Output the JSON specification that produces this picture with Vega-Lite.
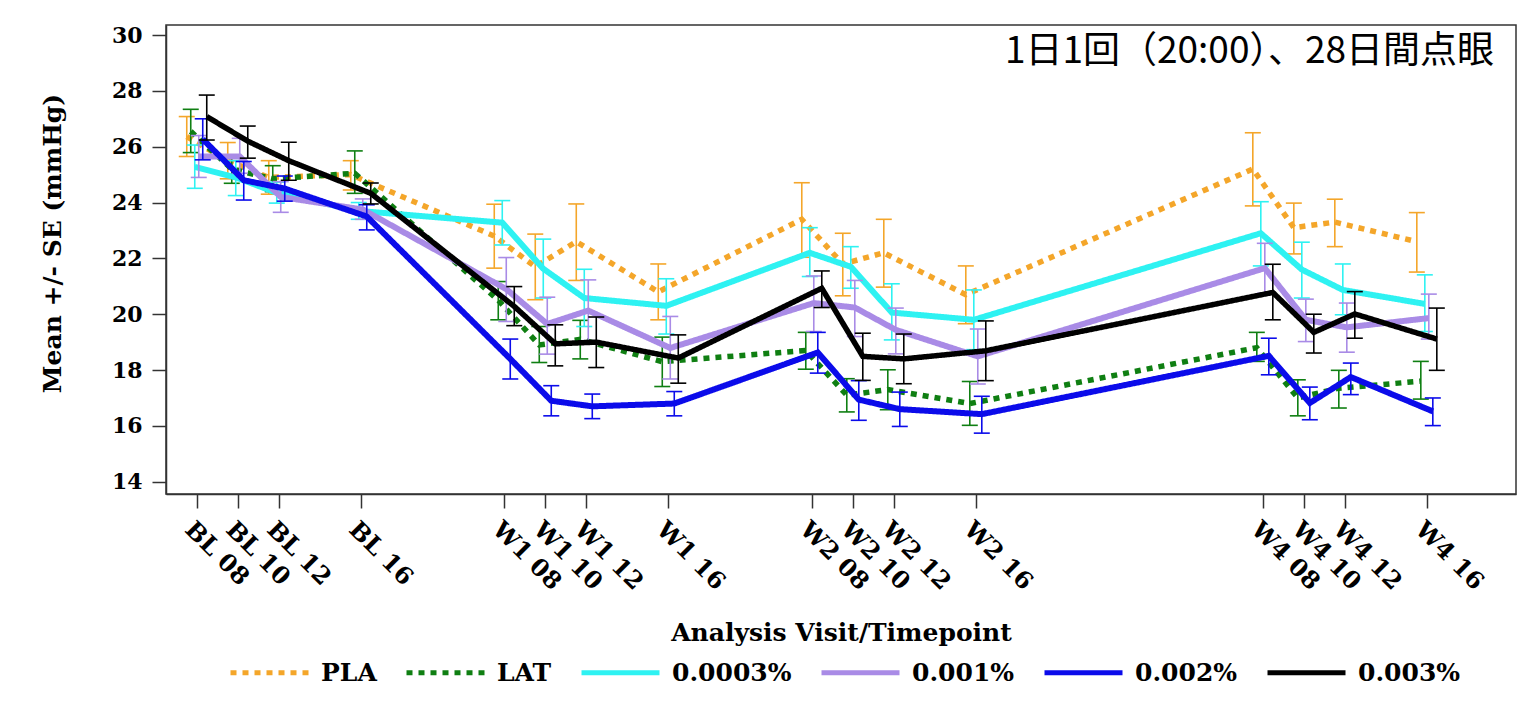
{
  "$schema": "https://vega.github.io/schema/vega-lite/v6.json",
  "width": 1350,
  "height": 469,
  "autosize": {"type": "none"},
  "padding": {"left": 166, "top": 25, "right": 10, "bottom": 208},
  "background": "white",
  "title": {
    "text": "1日1回（20:00）、28日間点眼",
    "anchor": "end", "frame": "group", "orient": "top",
    "font": "Noto Sans CJK JP", "fontSize": 37, "fontWeight": "normal", "color": "#000000",
    "baseline": "alphabetic", "offset": -37, "dy": 39, "dx": -22
  },
  "config": {
    "view": {"stroke": "#333333", "strokeWidth": 1.5},
    "axis": {
      "grid": false, "domainColor": "#333333", "domainWidth": 1.5, "tickColor": "#333333", "tickWidth": 1.5, "tickSize": 14,
      "labelFont": "DejaVu Serif", "labelFontWeight": "bold", "labelFontSize": 22, "labelColor": "#000000",
      "titleFont": "DejaVu Serif", "titleFontWeight": "bold", "titleFontSize": 25, "titleColor": "#000000"
    }
  },
  "data": {"values": [
    {"series": "PLA", "x": 0, "mean": 26.36, "lo": 25.65, "hi": 27.08},
    {"series": "PLA", "x": 2, "mean": 25.5, "lo": 24.85, "hi": 26.15},
    {"series": "PLA", "x": 4, "mean": 24.9, "lo": 24.3, "hi": 25.5},
    {"series": "PLA", "x": 8, "mean": 25.0, "lo": 24.45, "hi": 25.5},
    {"series": "PLA", "x": 15, "mean": 22.8, "lo": 21.65, "hi": 23.94},
    {"series": "PLA", "x": 17, "mean": 21.7, "lo": 20.52, "hi": 22.87},
    {"series": "PLA", "x": 19, "mean": 22.6, "lo": 21.21, "hi": 23.95},
    {"series": "PLA", "x": 23, "mean": 20.8, "lo": 19.8, "hi": 21.8},
    {"series": "PLA", "x": 30, "mean": 23.4, "lo": 22.04, "hi": 24.71},
    {"series": "PLA", "x": 32, "mean": 21.8, "lo": 20.66, "hi": 22.9},
    {"series": "PLA", "x": 34, "mean": 22.2, "lo": 20.97, "hi": 23.4},
    {"series": "PLA", "x": 38, "mean": 20.7, "lo": 19.66, "hi": 21.73},
    {"series": "PLA", "x": 52, "mean": 25.2, "lo": 23.88, "hi": 26.5},
    {"series": "PLA", "x": 54, "mean": 23.1, "lo": 22.16, "hi": 23.98},
    {"series": "PLA", "x": 56, "mean": 23.3, "lo": 22.42, "hi": 24.12},
    {"series": "PLA", "x": 60, "mean": 22.6, "lo": 21.51, "hi": 23.64},
    {"series": "LAT", "x": 0, "mean": 26.55, "lo": 25.79, "hi": 27.34},
    {"series": "LAT", "x": 2, "mean": 25.2, "lo": 24.69, "hi": 25.71},
    {"series": "LAT", "x": 4, "mean": 24.85, "lo": 24.39, "hi": 25.32},
    {"series": "LAT", "x": 8, "mean": 25.05, "lo": 24.33, "hi": 25.85},
    {"series": "LAT", "x": 15, "mean": 20.5, "lo": 19.8, "hi": 21.17},
    {"series": "LAT", "x": 17, "mean": 18.9, "lo": 18.27, "hi": 19.56},
    {"series": "LAT", "x": 19, "mean": 19.1, "lo": 18.4, "hi": 19.78},
    {"series": "LAT", "x": 23, "mean": 18.3, "lo": 17.41, "hi": 19.18},
    {"series": "LAT", "x": 30, "mean": 18.7, "lo": 18.03, "hi": 19.35},
    {"series": "LAT", "x": 32, "mean": 17.1, "lo": 16.5, "hi": 17.69},
    {"series": "LAT", "x": 34, "mean": 17.3, "lo": 16.58, "hi": 18.01},
    {"series": "LAT", "x": 38, "mean": 16.8, "lo": 16.02, "hi": 17.59},
    {"series": "LAT", "x": 52, "mean": 18.8, "lo": 18.31, "hi": 19.35},
    {"series": "LAT", "x": 54, "mean": 17.0, "lo": 16.36, "hi": 17.65},
    {"series": "LAT", "x": 56, "mean": 17.35, "lo": 16.64, "hi": 17.99},
    {"series": "LAT", "x": 60, "mean": 17.6, "lo": 16.96, "hi": 18.31},
    {"series": "0.0003%", "x": 0, "mean": 25.28, "lo": 24.51, "hi": 26.06},
    {"series": "0.0003%", "x": 2, "mean": 24.9, "lo": 24.25, "hi": 25.5},
    {"series": "0.0003%", "x": 4, "mean": 24.35, "lo": 23.98, "hi": 24.73},
    {"series": "0.0003%", "x": 8, "mean": 23.7, "lo": 23.4, "hi": 24.0},
    {"series": "0.0003%", "x": 15, "mean": 23.28, "lo": 22.48, "hi": 24.07},
    {"series": "0.0003%", "x": 17, "mean": 21.63, "lo": 20.58, "hi": 22.69},
    {"series": "0.0003%", "x": 19, "mean": 20.58, "lo": 19.56, "hi": 21.61},
    {"series": "0.0003%", "x": 23, "mean": 20.3, "lo": 19.29, "hi": 21.27},
    {"series": "0.0003%", "x": 30, "mean": 22.2, "lo": 21.35, "hi": 23.1},
    {"series": "0.0003%", "x": 32, "mean": 21.7, "lo": 20.93, "hi": 22.42},
    {"series": "0.0003%", "x": 34, "mean": 20.06, "lo": 19.08, "hi": 21.09},
    {"series": "0.0003%", "x": 38, "mean": 19.8, "lo": 18.73, "hi": 20.87},
    {"series": "0.0003%", "x": 52, "mean": 22.9, "lo": 21.73, "hi": 24.03},
    {"series": "0.0003%", "x": 54, "mean": 21.6, "lo": 20.58, "hi": 22.58},
    {"series": "0.0003%", "x": 56, "mean": 20.87, "lo": 19.98, "hi": 21.8},
    {"series": "0.0003%", "x": 60, "mean": 20.37, "lo": 19.38, "hi": 21.41},
    {"series": "0.001%", "x": 0, "mean": 25.65, "lo": 24.9, "hi": 26.4},
    {"series": "0.001%", "x": 2, "mean": 25.65, "lo": 25.05, "hi": 26.3},
    {"series": "0.001%", "x": 4, "mean": 24.2, "lo": 23.65, "hi": 24.75},
    {"series": "0.001%", "x": 8, "mean": 23.75, "lo": 23.4, "hi": 24.13},
    {"series": "0.001%", "x": 15, "mean": 20.9, "lo": 19.74, "hi": 22.03},
    {"series": "0.001%", "x": 17, "mean": 19.65, "lo": 18.57, "hi": 20.61},
    {"series": "0.001%", "x": 19, "mean": 20.13, "lo": 19.05, "hi": 21.23},
    {"series": "0.001%", "x": 23, "mean": 18.79, "lo": 17.68, "hi": 19.92},
    {"series": "0.001%", "x": 30, "mean": 20.4, "lo": 19.38, "hi": 21.37},
    {"series": "0.001%", "x": 32, "mean": 20.24, "lo": 19.2, "hi": 21.21},
    {"series": "0.001%", "x": 34, "mean": 19.44, "lo": 18.58, "hi": 20.22},
    {"series": "0.001%", "x": 38, "mean": 18.49, "lo": 17.5, "hi": 19.47},
    {"series": "0.001%", "x": 52, "mean": 21.65, "lo": 20.75, "hi": 22.54},
    {"series": "0.001%", "x": 54, "mean": 19.8, "lo": 19.02, "hi": 20.54},
    {"series": "0.001%", "x": 56, "mean": 19.53, "lo": 18.64, "hi": 20.4},
    {"series": "0.001%", "x": 60, "mean": 19.86, "lo": 19.11, "hi": 20.72},
    {"series": "0.002%", "x": 0, "mean": 26.27, "lo": 25.53, "hi": 27.0},
    {"series": "0.002%", "x": 2, "mean": 24.8, "lo": 24.09, "hi": 25.47},
    {"series": "0.002%", "x": 4, "mean": 24.5, "lo": 24.05, "hi": 24.95},
    {"series": "0.002%", "x": 8, "mean": 23.5, "lo": 23.02, "hi": 23.92},
    {"series": "0.002%", "x": 15, "mean": 18.4, "lo": 17.68, "hi": 19.11},
    {"series": "0.002%", "x": 17, "mean": 16.9, "lo": 16.36, "hi": 17.44},
    {"series": "0.002%", "x": 19, "mean": 16.7, "lo": 16.26, "hi": 17.14},
    {"series": "0.002%", "x": 23, "mean": 16.8, "lo": 16.36, "hi": 17.23},
    {"series": "0.002%", "x": 30, "mean": 18.63, "lo": 17.89, "hi": 19.35},
    {"series": "0.002%", "x": 32, "mean": 16.94, "lo": 16.2, "hi": 17.62},
    {"series": "0.002%", "x": 34, "mean": 16.6, "lo": 15.98, "hi": 17.21},
    {"series": "0.002%", "x": 38, "mean": 16.42, "lo": 15.74, "hi": 17.06},
    {"series": "0.002%", "x": 52, "mean": 18.51, "lo": 17.83, "hi": 19.14},
    {"series": "0.002%", "x": 54, "mean": 16.82, "lo": 16.22, "hi": 17.39},
    {"series": "0.002%", "x": 56, "mean": 17.75, "lo": 17.12, "hi": 18.25},
    {"series": "0.002%", "x": 60, "mean": 16.52, "lo": 16.01, "hi": 17.0},
    {"series": "0.003%", "x": 0, "mean": 27.08, "lo": 26.24, "hi": 27.85},
    {"series": "0.003%", "x": 2, "mean": 26.2, "lo": 25.59, "hi": 26.74},
    {"series": "0.003%", "x": 4, "mean": 25.5, "lo": 24.8, "hi": 26.16},
    {"series": "0.003%", "x": 8, "mean": 24.33, "lo": 23.95, "hi": 24.7},
    {"series": "0.003%", "x": 15, "mean": 20.28, "lo": 19.59, "hi": 20.99},
    {"series": "0.003%", "x": 17, "mean": 18.94, "lo": 18.15, "hi": 19.62},
    {"series": "0.003%", "x": 19, "mean": 19.0, "lo": 18.09, "hi": 19.9},
    {"series": "0.003%", "x": 23, "mean": 18.43, "lo": 17.53, "hi": 19.26},
    {"series": "0.003%", "x": 30, "mean": 20.93, "lo": 20.24, "hi": 21.55},
    {"series": "0.003%", "x": 32, "mean": 18.49, "lo": 17.63, "hi": 19.32},
    {"series": "0.003%", "x": 34, "mean": 18.4, "lo": 17.51, "hi": 19.29},
    {"series": "0.003%", "x": 38, "mean": 18.69, "lo": 17.62, "hi": 19.76},
    {"series": "0.003%", "x": 52, "mean": 20.78, "lo": 19.8, "hi": 21.79},
    {"series": "0.003%", "x": 54, "mean": 19.35, "lo": 18.61, "hi": 20.0},
    {"series": "0.003%", "x": 56, "mean": 20.01, "lo": 19.14, "hi": 20.81},
    {"series": "0.003%", "x": 60, "mean": 19.11, "lo": 17.99, "hi": 20.22}
  ]},
  "encoding": {
    "x": {
      "field": "x", "type": "quantitative",
      "scale": {"domain": [-1.5, 64.35], "nice": false, "zero": false},
      "axis": {
        "values": [0, 2, 4, 8, 15, 17, 19, 23, 30, 32, 34, 38, 52, 54, 56, 60],
        "labelExpr": "['BL 08','BL 10','BL 12','BL 16','W1 08','W1 10','W1 12','W1 16','W2 08','W2 10','W2 12','W2 16','W4 08','W4 10','W4 12','W4 16'][indexof([0,2,4,8,15,17,19,23,30,32,34,38,52,54,56,60], datum.value)]",
        "labelAngle": 45, "labelAlign": "left", "labelBaseline": "top", "labelPadding": 9, "labelFontSize": 24, "labelOverlap": false,
        "title": "Analysis Visit/Timepoint", "titleY": 138, "titleBaseline": "middle"
      }
    },
    "y": {
      "field": "mean", "type": "quantitative",
      "scale": {"domain": [13.56, 30.36], "nice": false, "zero": false},
      "axis": {"values": [14, 16, 18, 20, 22, 24, 26, 28, 30], "labelPadding": 10, "title": "Mean +/- SE (mmHg)", "titleX": -114, "titleY": 218, "titleAlign": "center", "titleBaseline": "middle"}
    },
    "color": {
      "field": "series", "type": "nominal",
      "scale": {"domain": ["PLA", "LAT", "0.0003%", "0.001%", "0.002%", "0.003%"], "range": ["#F4A62A", "#0F7F12", "#2EF2F2", "#A98BE6", "#0B0BEA", "#000000"]},
      "legend": {"title": null, "orient": "none", "legendX": 62, "legendY": 606, "direction": "horizontal", "columns": 6, "symbolType": "stroke", "symbolSize": 6084, "symbolStrokeWidth": 5, "symbolOpacity": 1, "labelFont": "DejaVu Serif", "labelFontWeight": "bold", "labelFontSize": 25, "labelColor": "#000000", "labelOffset": 10, "columnPadding": 19, "labelLimit": 400}
    },
    "strokeDash": {
      "field": "series", "type": "nominal",
      "scale": {"domain": ["PLA", "LAT", "0.0003%", "0.001%", "0.002%", "0.003%"], "range": [[6, 6], [6, 6], [1, 0], [1, 0], [1, 0], [1, 0]]},
      "legend": {"title": null, "orient": "none", "legendX": 62, "legendY": 606, "direction": "horizontal", "columns": 6, "symbolType": "stroke", "symbolSize": 6084, "symbolStrokeWidth": 5, "symbolOpacity": 1, "labelFont": "DejaVu Serif", "labelFontWeight": "bold", "labelFontSize": 25, "labelColor": "#000000", "labelOffset": 10, "columnPadding": 19, "labelLimit": 400}
    }
  },
  "layer": [
    {
      "transform": [{"filter": "datum.series === 'PLA'"}],
      "layer": [
        {"mark": {"type": "line", "strokeWidth": 5.5, "xOffset": -10}, "encoding": {}},
        {"mark": {"type": "rule", "strokeWidth": 1.6, "xOffset": -10}, "encoding": {"y": {"field": "lo", "type": "quantitative", "title": "Mean +/- SE (mmHg)"}, "y2": {"field": "hi"}, "strokeDash": {"value": [1, 0]}}},
        {"transform": [{"fold": ["lo", "hi"], "as": ["k", "v"]}], "mark": {"type": "tick", "orient": "horizontal", "size": 16, "thickness": 1.6, "opacity": 1, "xOffset": -10}, "encoding": {"y": {"field": "v", "type": "quantitative", "title": "Mean +/- SE (mmHg)"}}}
      ]
    },
    {
      "transform": [{"filter": "datum.series === 'LAT'"}],
      "layer": [
        {"mark": {"type": "line", "strokeWidth": 5.5, "xOffset": -6}, "encoding": {}},
        {"mark": {"type": "rule", "strokeWidth": 1.6, "xOffset": -6}, "encoding": {"y": {"field": "lo", "type": "quantitative", "title": "Mean +/- SE (mmHg)"}, "y2": {"field": "hi"}, "strokeDash": {"value": [1, 0]}}},
        {"transform": [{"fold": ["lo", "hi"], "as": ["k", "v"]}], "mark": {"type": "tick", "orient": "horizontal", "size": 16, "thickness": 1.6, "opacity": 1, "xOffset": -6}, "encoding": {"y": {"field": "v", "type": "quantitative", "title": "Mean +/- SE (mmHg)"}}}
      ]
    },
    {
      "transform": [{"filter": "datum.series === '0.0003%'"}],
      "layer": [
        {"mark": {"type": "line", "strokeWidth": 6, "xOffset": -2}, "encoding": {}},
        {"mark": {"type": "rule", "strokeWidth": 1.6, "xOffset": -2}, "encoding": {"y": {"field": "lo", "type": "quantitative", "title": "Mean +/- SE (mmHg)"}, "y2": {"field": "hi"}, "strokeDash": {"value": [1, 0]}}},
        {"transform": [{"fold": ["lo", "hi"], "as": ["k", "v"]}], "mark": {"type": "tick", "orient": "horizontal", "size": 16, "thickness": 1.6, "opacity": 1, "xOffset": -2}, "encoding": {"y": {"field": "v", "type": "quantitative", "title": "Mean +/- SE (mmHg)"}}}
      ]
    },
    {
      "transform": [{"filter": "datum.series === '0.001%'"}],
      "layer": [
        {"mark": {"type": "line", "strokeWidth": 6, "xOffset": 2}, "encoding": {}},
        {"mark": {"type": "rule", "strokeWidth": 1.6, "xOffset": 2}, "encoding": {"y": {"field": "lo", "type": "quantitative", "title": "Mean +/- SE (mmHg)"}, "y2": {"field": "hi"}, "strokeDash": {"value": [1, 0]}}},
        {"transform": [{"fold": ["lo", "hi"], "as": ["k", "v"]}], "mark": {"type": "tick", "orient": "horizontal", "size": 16, "thickness": 1.6, "opacity": 1, "xOffset": 2}, "encoding": {"y": {"field": "v", "type": "quantitative", "title": "Mean +/- SE (mmHg)"}}}
      ]
    },
    {
      "transform": [{"filter": "datum.series === '0.002%'"}],
      "layer": [
        {"mark": {"type": "line", "strokeWidth": 6, "xOffset": 6}, "encoding": {}},
        {"mark": {"type": "rule", "strokeWidth": 1.6, "xOffset": 6}, "encoding": {"y": {"field": "lo", "type": "quantitative", "title": "Mean +/- SE (mmHg)"}, "y2": {"field": "hi"}, "strokeDash": {"value": [1, 0]}}},
        {"transform": [{"fold": ["lo", "hi"], "as": ["k", "v"]}], "mark": {"type": "tick", "orient": "horizontal", "size": 16, "thickness": 1.6, "opacity": 1, "xOffset": 6}, "encoding": {"y": {"field": "v", "type": "quantitative", "title": "Mean +/- SE (mmHg)"}}}
      ]
    },
    {
      "transform": [{"filter": "datum.series === '0.003%'"}],
      "layer": [
        {"mark": {"type": "line", "strokeWidth": 5.5, "xOffset": 10}, "encoding": {}},
        {"mark": {"type": "rule", "strokeWidth": 1.6, "xOffset": 10}, "encoding": {"y": {"field": "lo", "type": "quantitative", "title": "Mean +/- SE (mmHg)"}, "y2": {"field": "hi"}, "strokeDash": {"value": [1, 0]}}},
        {"transform": [{"fold": ["lo", "hi"], "as": ["k", "v"]}], "mark": {"type": "tick", "orient": "horizontal", "size": 16, "thickness": 1.6, "opacity": 1, "xOffset": 10}, "encoding": {"y": {"field": "v", "type": "quantitative", "title": "Mean +/- SE (mmHg)"}}}
      ]
    }
  ]
}
